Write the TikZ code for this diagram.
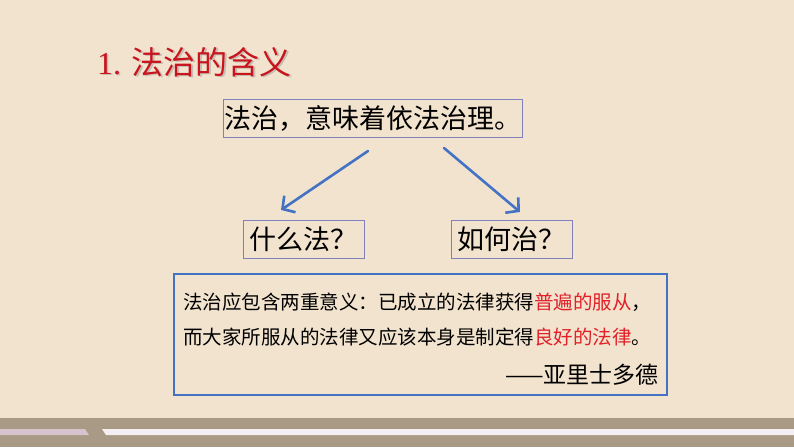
\documentclass[tikz,border=0pt]{standalone}
\usepackage{fontspec}
\setmainfont{Liberation Sans}
\newfontfamily\cjk{Noto Sans CJK SC}
\newfontfamily\numserif{Liberation Serif}
\usetikzlibrary{arrows.meta}
\definecolor{paperbg}{RGB}{242,227,206}
\definecolor{bandgray}{RGB}{168,154,132}
\definecolor{stripepink}{RGB}{215,195,205}
\definecolor{stripewhite}{RGB}{245,238,242}
\definecolor{linkblue}{RGB}{68,114,196}
\definecolor{boxedge}{RGB}{128,128,188}
\definecolor{titlered}{RGB}{200,20,28}
\definecolor{keyred}{RGB}{226,32,40}
\tikzstyle{question} = [rectangle, minimum width=121pt, minimum height=38pt, inner sep=0pt, text centered, draw=boxedge, line width=0.8pt, font=\cjk\fontsize{27}{32}\selectfont]
\tikzstyle{quoteline} = [inner sep=0pt, font=\cjk\fontsize{19.5}{24}\selectfont]
\tikzstyle{arrow} = [line width=2.6pt, draw=linkblue, line cap=round, -{Straight Barb[length=9pt,width=20pt]}]

\begin{document}
\begin{tikzpicture}[x=1pt, y=-1pt]
	\useasboundingbox (0,0) rectangle (794,447);
	\fill[paperbg] (0,0) rectangle (794,447);
	% bottom band
	\fill[bandgray] (0,418) rectangle (794,447);
	\fill[stripepink] (0,429) -- (85,429) -- (89,435) -- (0,435) -- cycle;
	\fill[stripewhite] (102,429) -- (794,429) -- (794,435) -- (106,435) -- cycle;

	% title with shadow
	\node[anchor=west, inner sep=0pt, text=black!40, opacity=0.5] at (98.5,63.5) {\fontsize{32}{36}\selectfont\numserif 1. \cjk 法治的含义};
	\node (title) [anchor=west, inner sep=0pt, text=titlered] at (97,62) {\fontsize{32}{36}\selectfont\numserif 1. \cjk 法治的含义};

	\node (rule) [question, minimum width=299pt] at (372.5,118) {法治，意味着依法治理。};
	\node (what) [question] at (303.5,239) {什么法？};
	\node (how) [question] at (511.5,239) {如何治？};

	\coordinate (ls) at (368,151);
	\coordinate (le) at (281,210);
	\coordinate (rs) at (444,148);
	\coordinate (re) at (520,212);
	\draw [arrow] (ls) -- (le);
	\draw [arrow] (rs) -- (re);

	\node (quote) [rectangle, draw=linkblue, line width=2.4pt, minimum width=493pt, minimum height=121pt, inner sep=0pt] at (420.5,334.5) {};
	\node (line1) [quoteline, anchor=west] at (183,302) {法治应包含两重意义：已成立的法律获得\textcolor{keyred}{普遍的服从}，};
	\node (line2) [quoteline, anchor=west] at (183,337) {而大家所服从的法律又应该本身是制定得\textcolor{keyred}{良好的法律}。};
	\node (author) [quoteline, anchor=east, font=\cjk\fontsize{23}{26}\selectfont] at (659,375) {——亚里士多德};

\end{tikzpicture}
\end{document}
